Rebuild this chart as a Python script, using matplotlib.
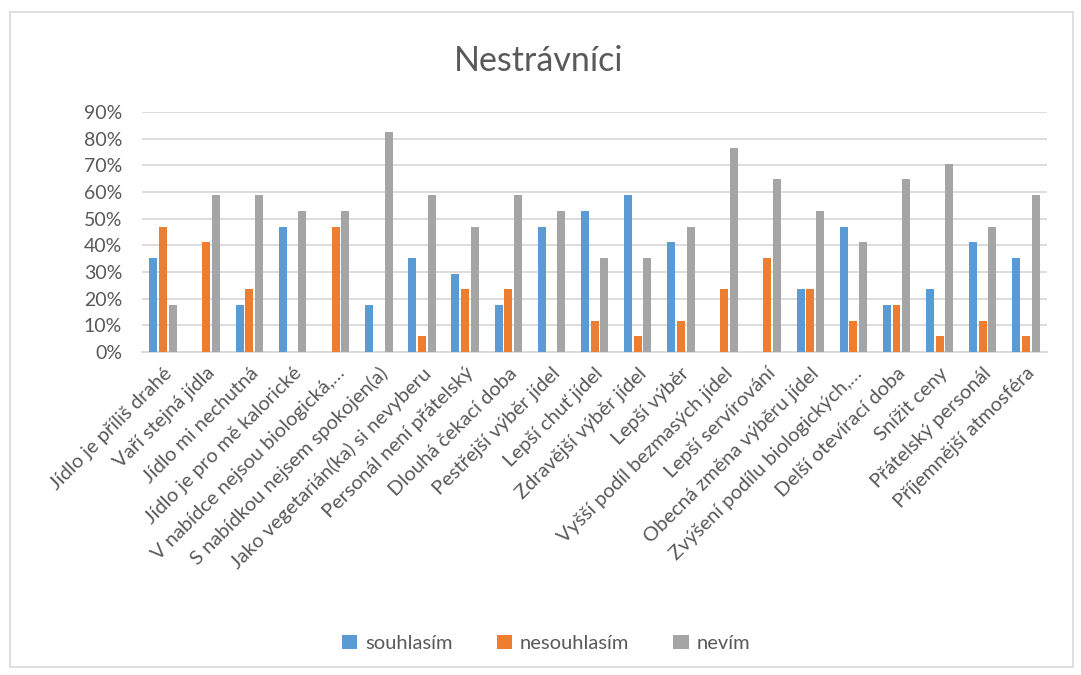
import matplotlib
matplotlib.use("Agg")
import matplotlib.pyplot as plt
import numpy as np
from matplotlib.patches import Rectangle
from matplotlib.ticker import PercentFormatter

plt.rcParams["font.family"] = ["Lato", "DejaVu Sans"]

N_RESP = 17

categories = [
    "Jídlo je příliš drahé",
    "Vaří stejná jídla",
    "Jídlo mi nechutná",
    "Jídlo je pro mě kalorické",
    "V nabídce nejsou biologická,…",
    "S nabídkou nejsem spokojen(a)",
    "Jako vegetarián(ka) si nevyberu",
    "Personál není přátelský",
    "Dlouhá čekací doba",
    "Pestřejší výběr jídel",
    "Lepší chuť jídel",
    "Zdravější výběr jídel",
    "Lepší výběr",
    "Vyšší podíl bezmasých jídel",
    "Lepší servírování",
    "Obecná změna výběru jídel",
    "Zvýšení podílu biologických,…",
    "Delší otevírací doba",
    "Snížit ceny",
    "Přátelský personál",
    "Příjemnější atmosféra",
]

# answer counts out of 17 respondents
souhlasim = [6, 0, 3, 8, 0, 3, 6, 5, 3, 8, 9, 10, 7, 0, 0, 4, 8, 3, 4, 7, 6]
nesouhlasim = [8, 7, 4, 0, 8, 0, 1, 4, 4, 0, 2, 1, 2, 4, 6, 4, 2, 3, 1, 2, 1]
nevim = [3, 10, 10, 9, 9, 14, 10, 8, 10, 9, 6, 6, 8, 13, 11, 9, 7, 11, 12, 8, 10]

series = [
    ("souhlasím", souhlasim, "#5B9BD5"),
    ("nesouhlasím", nesouhlasim, "#ED7D31"),
    ("nevím", nevim, "#A5A5A5"),
]

TEXT = "#595959"
GRID = "#D9D9D9"

fig = plt.figure(figsize=(10.81, 6.75), dpi=100)
ax = fig.add_axes([0.131, 0.4785, 0.838, 0.3555])

x = np.arange(len(categories))
step = 0.225
for i, (name, vals, color) in enumerate(series):
    share = np.array(vals) / N_RESP
    ax.bar(x + (i - 1) * step, share, width=0.185, color=color,
           linewidth=0, label=name, zorder=3)

ax.set_xlim(-0.5, len(categories) - 0.5)
ax.set_ylim(0, 0.9)
ax.set_yticks(np.arange(0, 0.91, 0.1))
ax.yaxis.set_major_formatter(PercentFormatter(1.0, decimals=0))
ax.grid(axis="y", color=GRID, linewidth=1.3, zorder=0)
for side in ["top", "right", "left"]:
    ax.spines[side].set_visible(False)
ax.spines["bottom"].set_color(GRID)
ax.spines["bottom"].set_linewidth(1.3)
ax.tick_params(axis="both", length=0, colors=TEXT, labelsize=14)
ax.tick_params(axis="y", pad=14)
ax.tick_params(axis="x", pad=9)

ax.set_xticks(x)
ax.set_xticklabels(categories, rotation=45, ha="right", va="top",
                   rotation_mode="anchor", fontsize=14.5, color=TEXT)

fig.text(0.498, 0.91, "Nestrávníci", ha="center", va="center",
         fontsize=24.5, color=TEXT)

leg = fig.legend(loc="center", bbox_to_anchor=(0.505, 0.047), ncol=3,
                 frameon=False, fontsize=14.5, handlelength=0.75,
                 handleheight=0.75, columnspacing=2.2, handletextpad=0.4)
for t in leg.get_texts():
    t.set_color(TEXT)

fig.patches.append(Rectangle((0.009, 0.012), 0.984, 0.97,
                             transform=fig.transFigure, fill=False,
                             edgecolor=GRID, linewidth=1.2))

fig.savefig("out.png", dpi=100)
